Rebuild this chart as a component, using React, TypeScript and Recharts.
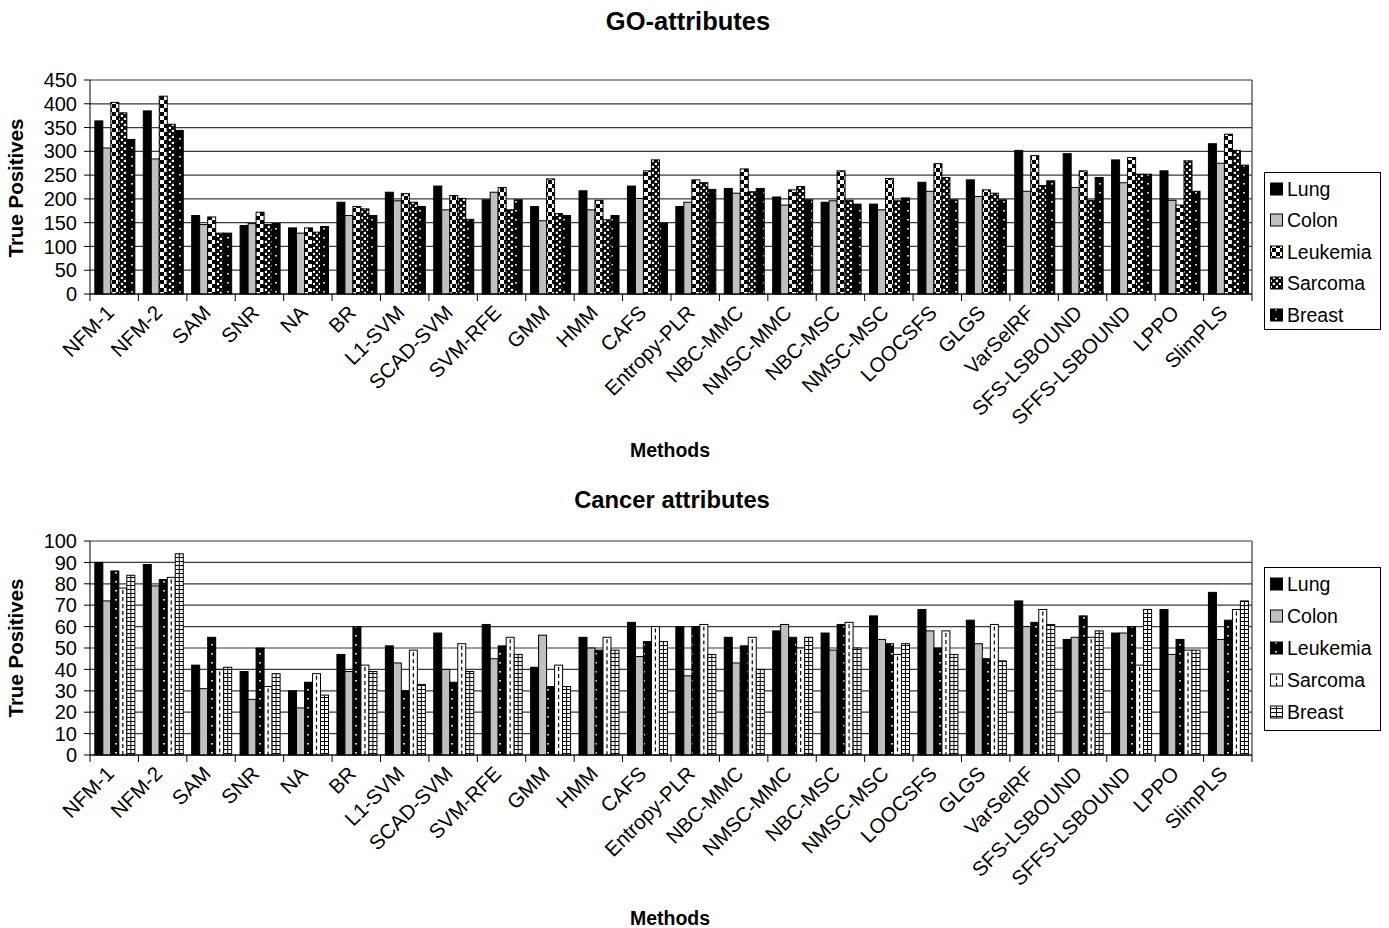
import { Bar, BarChart, CartesianGrid, XAxis, YAxis } from "recharts"

const methods = [
  "NFM-1", "NFM-2", "SAM", "SNR", "NA", "BR", "L1-SVM", "SCAD-SVM", "SVM-RFE", "GMM", "HMM", "CAFS",
  "Entropy-PLR", "NBC-MMC", "NMSC-MMC", "NBC-MSC", "NMSC-MSC", "LOOCSFS", "GLGS", "VarSelRF",
  "SFS-LSBOUND", "SFFS-LSBOUND", "LPPO", "SlimPLS",
]

// GO-attributes
const goLung = [364, 385, 165, 144, 139, 193, 214, 227, 198, 184, 217, 227, 184, 222, 204, 193, 189, 235, 240, 302, 295, 282, 259, 316]
const goColon = [307, 284, 146, 148, 128, 165, 196, 177, 214, 154, 177, 201, 193, 212, 187, 196, 177, 216, 205, 216, 224, 234, 197, 275]
const goLeukemia = [403, 416, 162, 172, 139, 184, 211, 207, 224, 242, 197, 259, 240, 263, 219, 259, 243, 274, 219, 291, 259, 287, 187, 336]
const goSarcoma = [381, 357, 128, 146, 130, 179, 193, 201, 177, 169, 156, 282, 234, 215, 226, 197, 196, 245, 212, 228, 197, 252, 280, 302]
const goBreast = [325, 344, 128, 148, 142, 165, 184, 157, 198, 165, 165, 149, 220, 222, 198, 189, 202, 198, 198, 238, 245, 252, 216, 271]
const goTicks = [0, 50, 100, 150, 200, 250, 300, 350, 400, 450]

// Cancer attributes
const caLung = [90, 89, 42, 39, 30, 47, 51, 57, 61, 41, 55, 62, 60, 55, 58, 57, 65, 68, 63, 72, 54, 57, 68, 76]
const caColon = [72, 79, 31, 26, 22, 39, 43, 40, 45, 56, 50, 46, 37, 43, 61, 49, 54, 58, 52, 60, 55, 57, 47, 54]
const caLeukemia = [86, 82, 55, 50, 34, 60, 30, 34, 51, 32, 49, 53, 60, 51, 55, 61, 52, 50, 45, 62, 65, 60, 54, 63]
const caSarcoma = [78, 83, 40, 32, 38, 42, 49, 52, 55, 42, 55, 60, 61, 55, 50, 62, 47, 58, 61, 68, 55, 42, 49, 68]
const caBreast = [84, 94, 41, 38, 28, 39, 33, 39, 47, 32, 49, 53, 47, 40, 55, 50, 52, 47, 44, 61, 58, 68, 49, 72]
const caTicks = [0, 10, 20, 30, 40, 50, 60, 70, 80, 90, 100]

const seriesNames = ["Lung", "Colon", "Leukemia", "Sarcoma", "Breast"]

const goData = methods.map((m, i) => ({
  method: m,
  Lung: goLung[i],
  Colon: goColon[i],
  Leukemia: goLeukemia[i],
  Sarcoma: goSarcoma[i],
  Breast: goBreast[i],
}))

const caData = methods.map((m, i) => ({
  method: m,
  Lung: caLung[i],
  Colon: caColon[i],
  Leukemia: caLeukemia[i],
  Sarcoma: caSarcoma[i],
  Breast: caBreast[i],
}))

type Kind = "solid" | "gray" | "checker" | "confetti" | "dots" | "dashline" | "ladder"

const goKinds: Kind[] = ["solid", "gray", "checker", "confetti", "dots"]
const caKinds: Kind[] = ["solid", "gray", "dots", "dashline", "ladder"]

const FONT = "'Liberation Sans', Arial, sans-serif"

function Patterns({ prefix }: { prefix: string }) {
  return (
    <defs>
      <pattern id={`${prefix}-checker`} width={8} height={8} patternUnits="userSpaceOnUse">
        <rect width={8} height={8} fill="#fff" />
        <rect x={0} y={0} width={4} height={4} fill="#000" />
        <rect x={4} y={4} width={4} height={4} fill="#000" />
      </pattern>
      <pattern id={`${prefix}-confetti`} width={6} height={6} patternUnits="userSpaceOnUse">
        <rect width={6} height={6} fill="#000" />
        <rect x={0.8} y={0.8} width={2.2} height={2.2} fill="#fff" />
        <rect x={3.8} y={3.8} width={2.2} height={2.2} fill="#fff" />
      </pattern>
      <pattern id={`${prefix}-dots`} width={8} height={9} patternUnits="userSpaceOnUse">
        <rect width={8} height={9} fill="#000" />
        <rect x={3.2} y={3} width={1.6} height={1.6} fill="#fff" />
      </pattern>
      <pattern id={`${prefix}-ladder`} width={4} height={4} patternUnits="userSpaceOnUse">
        <rect width={4} height={4} fill="#fff" />
        <rect x={0} y={0} width={4} height={1} fill="#000" />
      </pattern>
    </defs>
  )
}

function makeShape(kind: Kind, prefix: string) {
  return (props: any) => {
    const { x, y, width, height } = props
    if (!height || height <= 0) return <g />
    const base = { x, y, width, height, stroke: "#000", strokeWidth: 1 }
    const cx = x + width / 2
    switch (kind) {
      case "solid":
        return <rect {...base} fill="#000" />
      case "gray":
        return <rect {...base} fill="#c0c0c0" />
      case "checker":
      case "confetti":
      case "dots":
        return <rect {...base} fill={`url(#${prefix}-${kind})`} />
      case "dashline":
        return (
          <g>
            <rect {...base} fill="#fff" />
            <line x1={cx} x2={cx} y1={y + 2} y2={y + height} stroke="#000" strokeWidth={1.2} strokeDasharray="4 3" />
          </g>
        )
      case "ladder":
        return (
          <g>
            <rect {...base} fill={`url(#${prefix}-ladder)`} />
            <line x1={cx} x2={cx} y1={y} y2={y + height} stroke="#000" strokeWidth={1} />
          </g>
        )
    }
    return <rect {...base} fill="#000" />
  }
}

const MethodTick = (props: any) => {
  const { x, y, payload } = props
  const half = payload?.offset ?? 24.2
  const last = payload?.value === methods[methods.length - 1]
  return (
    <g>
      <line x1={x - half} x2={x - half} y1={y} y2={y + 7} stroke="#000" />
      {last && <line x1={x + half} x2={x + half} y1={y} y2={y + 7} stroke="#000" />}
      <text
        transform={`translate(${x + 1},${y + 20}) rotate(-45)`}
        textAnchor="end"
        fontSize={20.5}
        fontFamily={FONT}
        fill="#000"
      >
        {payload.value}
      </text>
    </g>
  )
}

function MethodChart({
  data,
  max,
  ticks,
  kinds,
  prefix,
  top,
}: {
  data: any[]
  max: number
  ticks: number[]
  kinds: Kind[]
  prefix: string
  top: number
}) {
  return (
    <div style={{ position: "absolute", left: 0, top }}>
      <BarChart
        width={1389}
        height={460}
        data={data}
        margin={{ top: 80, right: 137, bottom: 0, left: 0 }}
        barCategoryGap="10%"
        barGap={0}
      >
        <Patterns prefix={prefix} />
        <CartesianGrid
          stroke="#3a3a3a"
          strokeWidth={1.2}
          verticalCoordinatesGenerator={(p: any) => [p.offset.left + p.offset.width]}
        />
        <XAxis
          dataKey="method"
          interval={0}
          height={166}
          tickLine={false}
          tickSize={0}
          tickMargin={0}
          axisLine={{ stroke: "#000" }}
          tick={<MethodTick />}
        />
        <YAxis
          width={90}
          domain={[0, max]}
          ticks={ticks}
          interval={0}
          tickSize={6}
          tickMargin={7}
          tickLine={{ stroke: "#000" }}
          axisLine={{ stroke: "#000" }}
          tick={{ fontSize: 20, fill: "#000", fontFamily: FONT }}
        />
        {seriesNames.map((name, i) => (
          <Bar key={name} dataKey={name} isAnimationActive={false} shape={makeShape(kinds[i], prefix)} />
        ))}
      </BarChart>
    </div>
  )
}

function LegendBox({ x, y, h, kinds, prefix, rows }: { x: number; y: number; h: number; kinds: Kind[]; prefix: string; rows: number[] }) {
  return (
    <g>
      <rect x={x + 0.5} y={y + 0.5} width={116} height={h} fill="#fff" stroke="#000" />
      {seriesNames.map((name, i) => (
        <g key={name}>
          {makeShape(kinds[i], prefix)({ x: x + 6.5, y: rows[i] - 6, width: 12, height: 12 })}
          <text x={x + 23} y={rows[i] + 7} fontSize={19.5} fontFamily={FONT} fill="#000">
            {name}
          </text>
        </g>
      ))}
    </g>
  )
}

export default function App() {
  return (
    <div style={{ position: "absolute", left: 0, top: 0, width: 1389, height: 928, background: "#fff", fontFamily: FONT }}>
      <MethodChart data={goData} max={450} ticks={goTicks} kinds={goKinds} prefix="go" top={0} />
      <MethodChart data={caData} max={100} ticks={caTicks} kinds={caKinds} prefix="ca" top={461} />
      <svg width={1389} height={928} style={{ position: "absolute", left: 0, top: 0, pointerEvents: "none" }}>
        <Patterns prefix="lg" />
        <text x={688} y={30} textAnchor="middle" fontSize={25.5} fontWeight="bold" fontFamily={FONT}>
          GO-attributes
        </text>
        <text x={672} y={508} textAnchor="middle" fontSize={23.8} fontWeight="bold" fontFamily={FONT}>
          Cancer attributes
        </text>
        <text x={670} y={457} textAnchor="middle" fontSize={19.5} fontWeight="bold" fontFamily={FONT}>
          Methods
        </text>
        <text x={670} y={925} textAnchor="middle" fontSize={19.5} fontWeight="bold" fontFamily={FONT}>
          Methods
        </text>
        <text transform="translate(23,188) rotate(-90)" textAnchor="middle" fontSize={20.5} fontWeight="bold" fontFamily={FONT}>
          True Positives
        </text>
        <text transform="translate(23,648) rotate(-90)" textAnchor="middle" fontSize={20.5} fontWeight="bold" fontFamily={FONT}>
          True Positives
        </text>
        <LegendBox x={1264} y={172} h={157} kinds={goKinds} prefix="lg" rows={[189, 220, 252, 283, 315]} />
        <LegendBox x={1264} y={567} h={163} kinds={caKinds} prefix="lg" rows={[584, 616, 648, 680, 712]} />
      </svg>
    </div>
  )
}
